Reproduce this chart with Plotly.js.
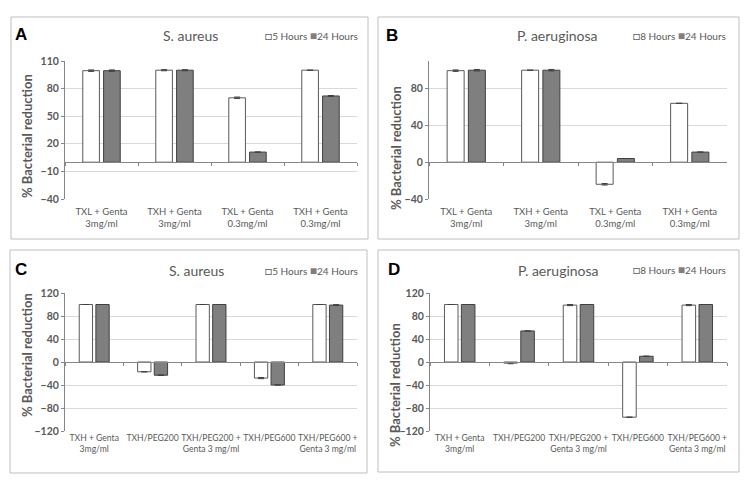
<!DOCTYPE html>
<html>
<head>
<meta charset="utf-8">
<script src="https://cdn.plot.ly/plotly-3.0.1.min.js"></script>
<style>
  html, body { margin: 0; padding: 0; background: #fff; }
  #chart { width: 751px; height: 487px; }
</style>
</head>
<body>
<div id="chart"></div>
<script>
// categories
const catsTop = ['TXL + Genta<br>3mg/ml', 'TXH + Genta<br>3mg/ml', 'TXL + Genta<br>0.3mg/ml', 'TXH + Genta<br>0.3mg/ml'];
const catsBottom = ['TXH + Genta<br>3mg/ml', 'TXH/PEG200', 'TXH/PEG200 +<br>Genta 3 mg/ml', 'TXH/PEG600', 'TXH/PEG600 +<br>Genta 3 mg/ml'];

const namesAureus = ['5 Hours', '24 Hours'];
const namesAerug = ['8 Hours', '24 Hours'];

// panel A - S. aureus
const aEarly = [99.5, 100, 70, 100];
const aEarlyErr = [0.8, 0.6, 0.8, 0];
const aLate = [99.5, 100, 11, 72];
const aLateErr = [0.8, 0.6, 0, 0.5];

// panel B - P. aeruginosa
const bEarly = [99.5, 100, -24, 64];
const bEarlyErr = [0.8, 0, 0.8, 0];
const bLate = [100, 100, 4, 11];
const bLateErr = [0.8, 0.8, 0, 0];

// panel C - S. aureus, PEG blends
const cEarly = [100, -17, 100, -28, 100];
const cEarlyErr = [0, 0, 0, 1, 0];
const cLate = [100, -23, 100, -40, 99];
const cLateErr = [0, 0.5, 0, 0, 0.8];

// panel D - P. aeruginosa, PEG blends
const dEarly = [100, -2, 99, -96, 99];
const dEarlyErr = [0, 1, 1, 0, 1];
const dLate = [100, 54, 100, 10, 100];
const dLateErr = [0, 0, 0, 0, 0];

const W = 751, H = 487;
const fx = p => p / W;
const fy = p => 1 - p / H;
const FONT = 'Lato, "Open Sans", sans-serif';
const TXT = '#595959';

const panels = [
    { letter: 'A', title: 'S. aureus', cats: catsTop, names: namesAureus,
      s1: aEarly, e1: aEarlyErr, s2: aLate, e2: aLateErr,
      range: [-40, 110], dtick: 30,
      plot: [65, 357, 61, 199], box: [11, 17, 368, 239],
      letterAt: [21, 34], titleAt: [190, 36], legendAt: [360, 36], yTitleAt: [27, 136],
      labelGap: 5, labelSize: 9.5 },
    { letter: 'B', title: 'P. aeruginosa', cats: catsTop, names: namesAerug,
      s1: bEarly, e1: bEarlyErr, s2: bLate, e2: bLateErr,
      range: [-40, 110], dtick: 40,
      plot: [429, 727, 61, 199], box: [378, 17, 739, 239],
      letterAt: [392, 35], titleAt: [557, 36], legendAt: [728, 36], yTitleAt: [396, 148],
      labelGap: 5, labelSize: 9.5 },
    { letter: 'C', title: 'S. aureus', cats: catsBottom, names: namesAureus,
      s1: cEarly, e1: cEarlyErr, s2: cLate, e2: cLateErr,
      range: [-120, 120], dtick: 40,
      plot: [65, 357, 293, 431], box: [10, 250, 367, 473],
      letterAt: [21, 269], titleAt: [196, 270], legendAt: [360, 270], yTitleAt: [27, 355],
      labelGap: 0, labelSize: 8.6 },
    { letter: 'D', title: 'P. aeruginosa', cats: catsBottom, names: namesAerug,
      s1: dEarly, e1: dEarlyErr, s2: dLate, e2: dLateErr,
      range: [-120, 120], dtick: 40,
      plot: [430, 727, 293, 431], box: [378, 250, 739, 472],
      letterAt: [394, 269], titleAt: [558, 270], legendAt: [728, 269], yTitleAt: [395, 385],
      labelGap: 0, labelSize: 8.6 }
];

const traces = [];
const shapes = [];
const annotations = [];
const layout = {
    width: W, height: H,
    margin: { l: 0, r: 0, t: 0, b: 0 },
    paper_bgcolor: '#fff', plot_bgcolor: '#fff',
    showlegend: false,
    barmode: 'group', bargap: 0.43, bargroupgap: 0.2,
    font: { family: FONT, color: TXT }
};

function errBar(arr) {
    return { type: 'data', array: arr, visible: true, color: '#404040', thickness: 1, width: 3 };
}

panels.forEach((p, i) => {
    const k = i + 1;
    const sfx = k === 1 ? '' : String(k);
    const lab = String(k + 4);
    const xDom = [fx(p.plot[0]), fx(p.plot[1])];
    const yDom = [fy(p.plot[3]), fy(p.plot[2])];
    const zeroPos = yDom[0] + (0 - p.range[0]) / (p.range[1] - p.range[0]) * (yDom[1] - yDom[0]);

    traces.push({
        type: 'bar', x: p.cats, y: p.s1, name: p.names[0],
        xaxis: 'x' + sfx, yaxis: 'y' + sfx,
        marker: { color: '#ffffff', line: { color: '#595959', width: 1 } },
        error_y: errBar(p.e1)
    });
    traces.push({
        type: 'bar', x: p.cats, y: p.s2, name: p.names[1],
        xaxis: 'x' + sfx, yaxis: 'y' + sfx,
        marker: { color: '#7f7f7f', line: { color: '#404040', width: 1 } },
        error_y: errBar(p.e2)
    });
    // empty trace so the label axis gets drawn
    traces.push({
        type: 'scatter', mode: 'markers', x: p.cats.map((_, j) => j), y: p.cats.map(() => null),
        xaxis: 'x' + lab, yaxis: 'y' + sfx, hoverinfo: 'skip', showlegend: false
    });

    // category axis sitting on the zero line, ticks between groups
    layout['xaxis' + sfx] = {
        domain: xDom, anchor: 'free', position: zeroPos, type: 'category',
        showline: true, linecolor: '#868686', linewidth: 1,
        ticks: 'outside', tickson: 'boundaries', ticklen: 3, tickcolor: '#868686',
        showticklabels: false, showgrid: false, zeroline: false, fixedrange: true
    };
    layout['yaxis' + sfx] = {
        domain: yDom, anchor: 'x' + sfx, range: p.range,
        tickmode: 'linear', tick0: p.range[0], dtick: p.dtick,
        showline: true, linecolor: '#868686', linewidth: 1,
        ticks: 'outside', ticklen: 3, tickcolor: '#868686',
        gridcolor: '#d9d9d9', gridwidth: 1, zeroline: false,
        tickfont: { family: FONT, size: 10.5, color: TXT, weight: 'bold' }
    };
    // labels along the bottom edge
    layout['xaxis' + lab] = {
        domain: xDom, overlaying: 'x' + sfx, anchor: 'y' + sfx,
        range: [-0.5, p.cats.length - 0.5],
        tickmode: 'array', tickvals: p.cats.map((_, j) => j), ticktext: p.cats,
        ticks: '', showline: false, showgrid: false, zeroline: false,
        tickangle: 0, ticklabelstandoff: p.labelGap,
        tickfont: { family: FONT, size: p.labelSize, color: TXT }
    };

    shapes.push({
        type: 'rect', xref: 'paper', yref: 'paper',
        x0: fx(p.box[0]), x1: fx(p.box[2]), y0: fy(p.box[3]), y1: fy(p.box[1]),
        line: { color: '#bfbfbf', width: 1 }
    });

    annotations.push({
        xref: 'paper', yref: 'paper', x: fx(p.letterAt[0]), y: fy(p.letterAt[1]),
        text: '<b>' + p.letter + '</b>', showarrow: false,
        xanchor: 'center', yanchor: 'middle',
        font: { family: 'Arial, "Liberation Sans", sans-serif', size: 17, color: '#000' }
    });
    annotations.push({
        xref: 'paper', yref: 'paper', x: fx(p.titleAt[0]), y: fy(p.titleAt[1]),
        text: p.title, showarrow: false, xanchor: 'center', yanchor: 'middle',
        font: { family: FONT, size: 14, color: TXT }
    });
    annotations.push({
        xref: 'paper', yref: 'paper', x: fx(p.legendAt[0]), y: fy(p.legendAt[1]),
        text: '<span style="color:#595959;font-size:12px">□</span>' + p.names[0] +
              ' <span style="color:#7f7f7f;font-size:12px">■</span>' + p.names[1],
        showarrow: false, xanchor: 'right', yanchor: 'middle',
        font: { family: FONT, size: 10, color: TXT }
    });
    annotations.push({
        xref: 'paper', yref: 'paper', x: fx(p.yTitleAt[0]), y: fy(p.yTitleAt[1]),
        text: '<b>% Bacterial reduction</b>', showarrow: false, textangle: -90,
        xanchor: 'center', yanchor: 'middle',
        font: { family: FONT, size: 13, color: TXT }
    });
});

layout.shapes = shapes;
layout.annotations = annotations;

Plotly.newPlot('chart', traces, layout, { staticPlot: true });
</script>
</body>
</html>
